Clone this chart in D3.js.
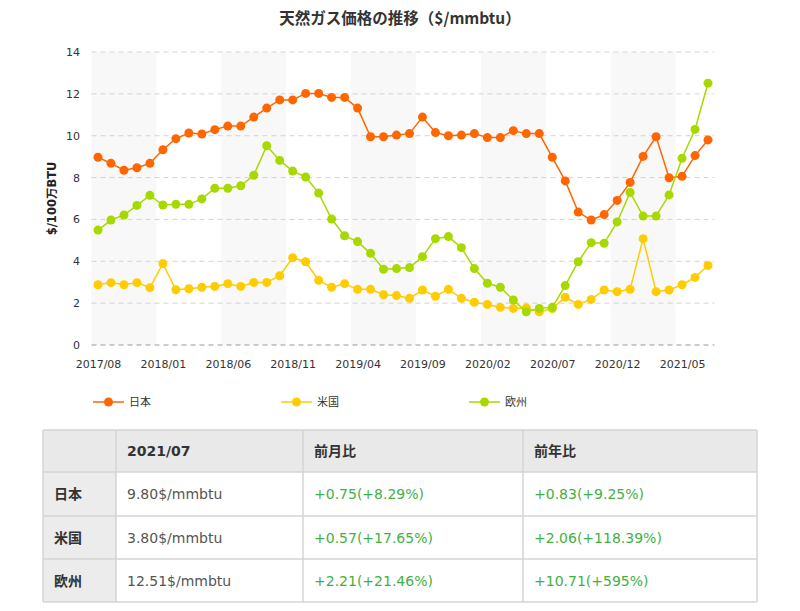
<!DOCTYPE html>
<html><head><meta charset="utf-8">
<script src="https://cdn.jsdelivr.net/npm/d3@7"></script>
<style>
html,body{margin:0;padding:0;background:#fff;}
svg{display:block;}
</style></head>
<body>
<svg id="chart" width="800" height="611"></svg>
<script>
const months = ["2017/08","2017/09","2017/10","2017/11","2017/12","2018/01","2018/02","2018/03","2018/04","2018/05","2018/06","2018/07","2018/08","2018/09","2018/10","2018/11","2018/12","2019/01","2019/02","2019/03","2019/04","2019/05","2019/06","2019/07","2019/08","2019/09","2019/10","2019/11","2019/12","2020/01","2020/02","2020/03","2020/04","2020/05","2020/06","2020/07","2020/08","2020/09","2020/10","2020/11","2020/12","2021/01","2021/02","2021/03","2021/04","2021/05","2021/06","2021/07"];
const japan = [8.97,8.68,8.35,8.47,8.68,9.33,9.86,10.13,10.08,10.29,10.46,10.46,10.89,11.32,11.71,11.71,12.02,12.02,11.83,11.83,11.32,9.95,9.95,10.03,10.10,10.89,10.15,10.00,10.03,10.10,9.91,9.91,10.24,10.10,10.10,8.97,7.84,6.35,5.97,6.23,6.91,7.77,9.01,9.95,7.99,8.06,9.05,9.80];
const usa = [2.88,2.98,2.88,2.98,2.74,3.89,2.64,2.69,2.76,2.80,2.93,2.80,2.99,2.99,3.31,4.17,3.98,3.09,2.76,2.93,2.66,2.66,2.40,2.36,2.23,2.63,2.33,2.66,2.23,2.04,1.94,1.80,1.75,1.77,1.59,1.74,2.28,1.94,2.18,2.63,2.55,2.66,5.08,2.55,2.63,2.88,3.23,3.80];
const europe = [5.49,5.97,6.21,6.67,7.15,6.69,6.72,6.72,6.98,7.49,7.49,7.61,8.11,9.52,8.82,8.31,8.03,7.26,6.02,5.22,4.94,4.38,3.62,3.65,3.70,4.22,5.08,5.18,4.65,3.65,2.95,2.76,2.15,1.59,1.75,1.80,2.84,3.98,4.89,4.86,5.88,7.29,6.16,6.16,7.17,8.92,10.30,12.51];
const seriesNames = ["日本","米国","欧州"];
const seriesColors = ["#ff6600","#ffcc00","#a6d900"];
const tickLabels = ["2017/08","2018/01","2018/06","2018/11","2019/04","2019/09","2020/02","2020/07","2020/12","2021/05"];
const yTicks = [0,2,4,6,8,10,12,14];
const tableHeader = ["","2021/07","前月比","前年比"];
const tableRegions = ["日本","米国","欧州"];
const tablePrice = ["9.80$/mmbtu","3.80$/mmbtu","12.51$/mmbtu"];
const tableMoM = ["+0.75(+8.29%)","+0.57(+17.65%)","+2.21(+21.46%)"];
const tableYoY = ["+0.83(+9.25%)","+2.06(+118.39%)","+10.71(+595%)"];

const svg = d3.select("#chart");
const latin = "'DejaVu Sans', Verdana, sans-serif";
const cjk = "'DejaVu Sans','Noto Sans CJK JP', sans-serif";

const x = d3.scalePoint().domain(months).range([98, 708]);
const step = x.step();
const y = d3.scaleLinear().domain([0, 14]).range([345, 52]);

// title
svg.append("text").attr("x", 400).attr("y", 24).attr("text-anchor", "middle")
  .attr("font-family", "'Noto Sans CJK JP', sans-serif").attr("font-weight", "bold")
  .attr("font-size", 15.5).attr("fill", "#333").text("天然ガス価格の推移（$/mmbtu）");

// background bands
const bandStarts = months.filter((m, i) => i % 10 === 0);
svg.append("g").selectAll("rect").data(bandStarts).join("rect")
  .attr("x", d => x(d) - step / 2).attr("y", y(14))
  .attr("width", step * 5).attr("height", y(0) - y(14))
  .attr("fill", "#f9f8f8");

// grid
svg.append("g").selectAll("line").data(yTicks).join("line")
  .attr("x1", x.range()[0] - step / 2).attr("x2", x.range()[1] + step / 2)
  .attr("y1", d => y(d)).attr("y2", d => y(d))
  .attr("stroke", d => d === 0 ? "#999" : "#d3d3d3").attr("stroke-dasharray", "5,4").attr("stroke-width", 1);

// y axis
const yAxis = svg.append("g").attr("transform", "translate(80,0)")
  .call(d3.axisLeft(y).tickValues(yTicks).tickSize(0).tickPadding(0).tickFormat(d3.format("d")));
yAxis.select(".domain").remove();
yAxis.selectAll("text").attr("font-family", latin).attr("font-size", 11).attr("fill", "#333");

// x axis
const xAxis = svg.append("g").attr("transform", `translate(0,${y(0)})`)
  .call(d3.axisBottom(x).tickValues(tickLabels).tickSize(0).tickPadding(15));
xAxis.select(".domain").remove();
xAxis.selectAll("text").attr("font-family", latin).attr("font-size", 11).attr("fill", "#333");

// y axis label
svg.append("text").attr("transform", `translate(56,${(y(0) + y(14)) / 2}) rotate(-90)`)
  .attr("text-anchor", "middle").attr("font-family", cjk).attr("font-weight", "bold")
  .attr("font-size", 11.5).attr("fill", "#222").text("$/100万BTU");

// series
const allSeries = [japan, usa, europe];
const line = d3.line().x((d, i) => x(months[i])).y(d => y(d));
allSeries.forEach((vals, k) => {
  const g = svg.append("g");
  g.append("path").datum(vals).attr("d", line).attr("fill", "none")
    .attr("stroke", seriesColors[k]).attr("stroke-width", 1.5);
  g.selectAll("circle").data(vals).join("circle")
    .attr("cx", (d, i) => x(months[i])).attr("cy", d => y(d)).attr("r", 4.5)
    .attr("fill", seriesColors[k]);
});

// legend
const legendX = [93, 281, 469];
seriesNames.forEach((name, k) => {
  const g = svg.append("g").attr("transform", `translate(${legendX[k]},402)`);
  g.append("line").attr("x1", 0).attr("x2", 31).attr("stroke", seriesColors[k]).attr("stroke-width", 1.5);
  g.append("circle").attr("cx", 15.5).attr("r", 4.5).attr("fill", seriesColors[k]);
  g.append("text").attr("x", 36).attr("y", 4).attr("font-family", "'Noto Sans CJK JP', sans-serif")
    .attr("font-size", 11).attr("fill", "#333").text(name);
});

// table
const colX = [43, 116, 303, 523, 757];
const rowY = [430, 472, 516, 559, 602];
const tbl = svg.append("g");
tbl.append("rect").attr("x", colX[0]).attr("y", rowY[0]).attr("width", colX[4] - colX[0]).attr("height", rowY[1] - rowY[0]).attr("fill", "#e9e9e9");
tbl.append("rect").attr("x", colX[0]).attr("y", rowY[1]).attr("width", colX[1] - colX[0]).attr("height", rowY[4] - rowY[1]).attr("fill", "#ececec");
colX.forEach(cx => tbl.append("line").attr("x1", cx).attr("x2", cx).attr("y1", rowY[0]).attr("y2", rowY[4]).attr("stroke", "#d4d4d4").attr("stroke-width", 1.5));
rowY.forEach(ry => tbl.append("line").attr("x1", colX[0]).attr("x2", colX[4]).attr("y1", ry).attr("y2", ry).attr("stroke", "#d4d4d4").attr("stroke-width", 1.5));

const cellText = (col, row, txt, opts) => {
  tbl.append("text").attr("x", colX[col] + 11).attr("y", (rowY[row] + rowY[row + 1]) / 2 + 5)
    .attr("font-family", opts.cjk ? cjk : latin).attr("font-size", 14)
    .attr("font-weight", opts.bold ? "bold" : "normal").attr("fill", opts.color).text(txt);
};
tableHeader.forEach((h, c) => { if (h) cellText(c, 0, h, {bold: true, color: "#333", cjk: true}); });
tableRegions.forEach((r, i) => {
  cellText(0, i + 1, r, {bold: true, color: "#333", cjk: true});
  cellText(1, i + 1, tablePrice[i], {color: "#555"});
  cellText(2, i + 1, tableMoM[i], {color: "#44b044"});
  cellText(3, i + 1, tableYoY[i], {color: "#44b044"});
});
</script>
</body></html>
